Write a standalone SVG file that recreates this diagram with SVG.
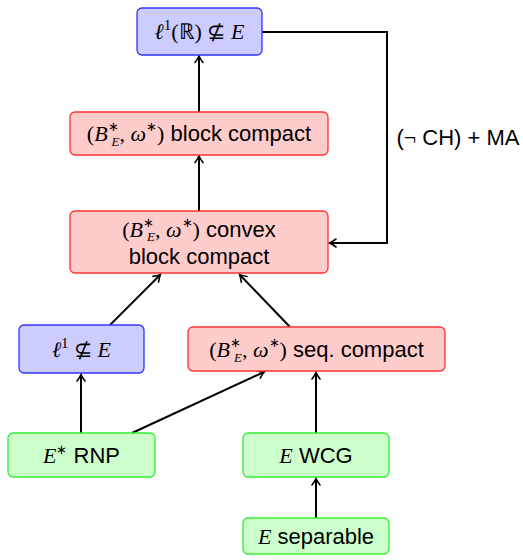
<svg xmlns="http://www.w3.org/2000/svg" width="523" height="560" viewBox="0 0 523 560">
<style>
.blue{fill:#ccccff;stroke:#3333ff;stroke-width:1.3}
.red{fill:#ffcccc;stroke:#ff3333;stroke-width:1.3}
.green{fill:#ccffcc;stroke:#33ee33;stroke-width:1.3}
.t{font-family:"Liberation Sans",Arial,sans-serif;font-size:22px;fill:#000;text-anchor:middle}
.m{font-family:"Liberation Serif","Times New Roman",serif}
.i{font-family:"Liberation Serif","Times New Roman",serif;font-style:italic}
.sup{font-family:"Liberation Serif","Times New Roman",serif;font-size:13px}
.one{font-family:"Liberation Serif","Times New Roman",serif;font-size:15px}
.sub{font-family:"Liberation Serif","Times New Roman",serif;font-style:italic;font-size:13px}
.e{fill:none;stroke:#000;stroke-width:2}
</style>
<defs>
<marker id="a" markerUnits="userSpaceOnUse" markerWidth="12" markerHeight="12" refX="0" refY="0" viewBox="-7 -6 9 12" orient="auto" overflow="visible">
<path d="M-6,-4 Q-2,-1 0.5,0 Q-2,1 -6,4" fill="none" stroke="#000" stroke-width="1.6" stroke-linecap="round"/>
</marker>
</defs>
<g id="connectors">
<path class="e" d="M199,112 L199,56.5" marker-end="url(#a)"/>
<path class="e" d="M199,211 L199,156.5" marker-end="url(#a)"/>
<path class="e" d="M110,325 L160,275" marker-end="url(#a)"/>
<path class="e" d="M290,327 L240,275" marker-end="url(#a)"/>
<path class="e" d="M81,433 L81,375" marker-end="url(#a)"/>
<path class="e" d="M132,433 L264,372" marker-end="url(#a)"/>
<path class="e" d="M316,433 L316,373" marker-end="url(#a)"/>
<path class="e" d="M316,518 L316,479" marker-end="url(#a)"/>
<path class="e" d="M262,32 L387,32 L387,243 L330,243" marker-end="url(#a)"/>
<text class="t" x="458" y="145">(<tspan class="m">¬</tspan> CH) + MA</text>
</g>
<g id="n1">
<rect class="blue" x="137" y="8" width="125" height="47" rx="5"/>
<text class="t" x="199.5" y="39"><tspan class="i">ℓ</tspan><tspan class="one" dy="-9">1</tspan><tspan class="m" dy="9">(ℝ) ⊈ </tspan><tspan class="i">E</tspan></text>
</g>
<g id="n2">
<rect class="red" x="70" y="112" width="258" height="43" rx="5"/>
<text class="t" x="199" y="141"><tspan class="m">(</tspan><tspan class="i">B</tspan><tspan class="sup" dy="-10">∗</tspan><tspan class="sub" dx="-7" dy="15">E</tspan><tspan class="m" dy="-5">, </tspan><tspan class="i">ω</tspan><tspan class="sup" dy="-10">∗</tspan><tspan class="m" dy="10">)</tspan> block compact</text>
</g>
<g id="n3">
<rect class="red" x="70" y="211" width="258" height="62" rx="5"/>
<text class="t" x="199" y="237"><tspan class="m">(</tspan><tspan class="i">B</tspan><tspan class="sup" dy="-10">∗</tspan><tspan class="sub" dx="-7" dy="14">E</tspan><tspan class="m" dy="-4">, </tspan><tspan class="i">ω</tspan><tspan class="sup" dy="-10">∗</tspan><tspan class="m" dy="10">)</tspan> convex</text>
<text class="t" x="199" y="264">block compact</text>
</g>
<g id="n4">
<rect class="blue" x="19" y="325" width="125" height="48" rx="5"/>
<text class="t" x="81.5" y="357"><tspan class="i">ℓ</tspan><tspan class="one" dy="-9">1</tspan><tspan class="m" dy="9"> ⊈ </tspan><tspan class="i">E</tspan></text>
</g>
<g id="n5">
<rect class="red" x="188" y="327" width="257" height="44" rx="5"/>
<text class="t" x="316.5" y="357"><tspan class="m">(</tspan><tspan class="i">B</tspan><tspan class="sup" dy="-10">∗</tspan><tspan class="sub" dx="-7" dy="15">E</tspan><tspan class="m" dy="-5">, </tspan><tspan class="i">ω</tspan><tspan class="sup" dy="-10">∗</tspan><tspan class="m" dy="10">)</tspan> seq.  compact</text>
</g>
<g id="n6">
<rect class="green" x="8" y="433" width="147" height="44" rx="5"/>
<text class="t" x="81.5" y="463"><tspan class="i">E</tspan><tspan class="sup" dy="-9">∗</tspan><tspan dy="9"> RNP</tspan></text>
</g>
<g id="n7">
<rect class="green" x="243" y="433" width="146" height="44" rx="5"/>
<text class="t" x="316" y="463"><tspan class="i">E</tspan> WCG</text>
</g>
<g id="n8">
<rect class="green" x="243" y="518" width="146" height="36" rx="5"/>
<text class="t" x="316" y="544"><tspan class="i">E</tspan> separable</text>
</g>
</svg>
